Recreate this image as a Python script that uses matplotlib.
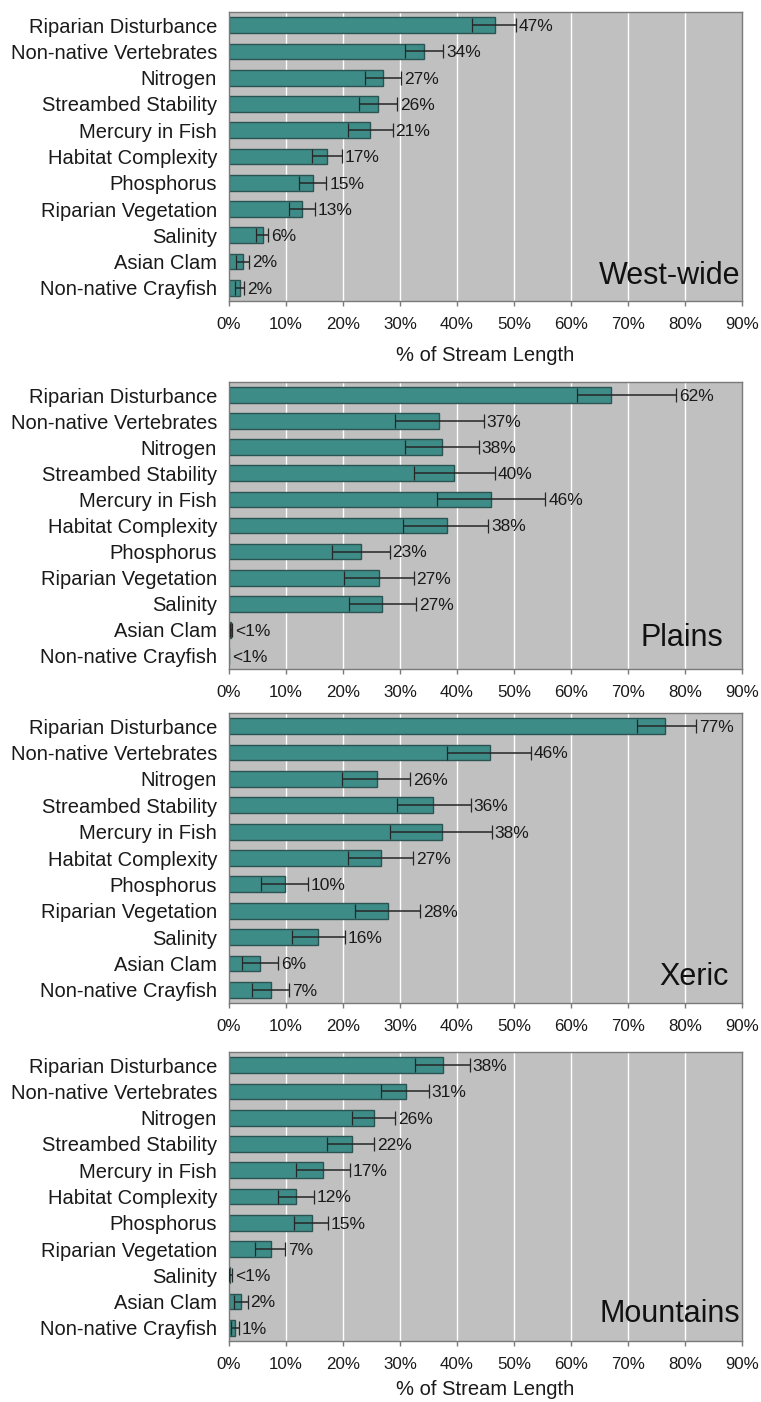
import numpy as np
import matplotlib
matplotlib.use("Agg")
import matplotlib.pyplot as plt

plt.rcParams["font.family"] = ["Liberation Sans", "DejaVu Sans"]

categories = [
    "Riparian Disturbance", "Non-native Vertebrates", "Nitrogen", "Streambed Stability",
    "Mercury in Fish", "Habitat Complexity", "Phosphorus", "Riparian Vegetation",
    "Salinity", "Asian Clam", "Non-native Crayfish",
]

# West-wide
west_val = [46.6, 34.2, 27.0, 26.2, 24.8, 17.2, 14.8, 12.8, 5.9, 2.4, 2.0]
west_lo = [42.7, 30.9, 23.8, 22.8, 20.8, 14.6, 12.3, 10.6, 4.8, 1.2, 1.0]
west_hi = [50.3, 37.6, 30.2, 29.5, 28.7, 19.8, 17.1, 15.1, 6.9, 3.5, 2.7]
west_lbl = ["47%", "34%", "27%", "26%", "21%", "17%", "15%", "13%", "6%", "2%", "2%"]

# Plains
plains_val = [67.0, 36.9, 37.3, 39.5, 46.0, 38.2, 23.1, 26.4, 26.9, 0.3, 0.0]
plains_lo = [61.0, 29.2, 30.8, 32.4, 36.5, 30.6, 18.0, 20.1, 21.0, 0.1, 0.0]
plains_hi = [78.5, 44.7, 43.8, 46.6, 55.5, 45.5, 28.2, 32.4, 32.8, 0.6, 0.0]
plains_lbl = ["62%", "37%", "38%", "40%", "46%", "38%", "23%", "27%", "27%", "<1%", "<1%"]

# Xeric
xeric_val = [76.5, 45.8, 25.9, 35.8, 37.3, 26.6, 9.9, 27.9, 15.7, 5.5, 7.4]
xeric_lo = [71.5, 38.3, 19.8, 29.4, 28.3, 20.9, 5.7, 22.1, 11.0, 2.3, 4.1]
xeric_hi = [82.0, 52.9, 31.8, 42.4, 46.1, 32.3, 13.9, 33.5, 20.3, 8.6, 10.5]
xeric_lbl = ["77%", "46%", "26%", "36%", "38%", "27%", "10%", "28%", "16%", "6%", "7%"]

# Mountains
mount_val = [37.5, 31.0, 25.4, 21.5, 16.5, 11.7, 14.5, 7.3, 0.2, 2.1, 1.0]
mount_lo = [32.6, 26.7, 21.5, 17.2, 11.7, 8.6, 11.4, 4.6, 0.0, 0.9, 0.3]
mount_hi = [42.2, 35.1, 29.2, 25.5, 21.2, 14.9, 17.3, 9.9, 0.5, 3.3, 1.8]
mount_lbl = ["38%", "31%", "26%", "22%", "17%", "12%", "15%", "7%", "<1%", "2%", "1%"]

panel_names = ["West-wide", "Plains", "Xeric", "Mountains"]
x_ticks = [0, 10, 20, 30, 40, 50, 60, 70, 80, 90]

BG = "#c0c0c0"
BAR = "#3e8c88"
BAR_EDGE = "#2b5352"
SPINE = "#7a7a7a"


def plot_panel(ax, val, lo, hi, lbl, name, name_pos, xlabel_pad):
    y = np.arange(len(categories))
    val = np.asarray(val)
    lo = np.asarray(lo)
    hi = np.asarray(hi)

    ax.set_facecolor(BG)
    for t in x_ticks[1:-1]:
        ax.axvline(t, color="white", linewidth=1.0, zorder=1)

    ax.barh(y, val, height=0.6, color=BAR, edgecolor=BAR_EDGE, linewidth=1.0, zorder=2)
    has_err = hi > 0
    ax.errorbar(val[has_err], y[has_err],
                xerr=[val[has_err] - lo[has_err], hi[has_err] - val[has_err]],
                fmt="none", ecolor="#262626", elinewidth=1.1, capsize=5.0,
                capthick=0.9, zorder=3)

    for yi, h, t in zip(y, hi, lbl):
        ax.annotate(t, xy=(h, yi), xytext=(2, -1), textcoords="offset points",
                    ha="left", va="center", fontsize=12.5, color="#1a1a1a", zorder=4)

    ax.text(name_pos[0], name_pos[1], name, transform=ax.transAxes, ha="right",
            va="baseline", fontsize=22, color="#111111", zorder=4)

    ax.set_xlim(0, 90)
    ax.set_ylim(len(categories) - 0.5, -0.5)
    ax.set_xticks(x_ticks)
    ax.set_xticklabels([f"{t}%" for t in x_ticks], fontsize=12.2, color="#1a1a1a")
    ax.set_yticks(y)
    ax.set_yticklabels(categories, fontsize=14.5, color="#1a1a1a")
    ax.tick_params(axis="y", length=0, pad=8.6)
    ax.tick_params(axis="x", length=3.5, width=1.0, color=SPINE, pad=8)
    for side in ["top", "bottom", "left", "right"]:
        ax.spines[side].set_color(SPINE)
        ax.spines[side].set_linewidth(1.0)
    if xlabel_pad is not None:
        ax.set_xlabel("% of Stream Length", fontsize=14.5, color="#1a1a1a", labelpad=xlabel_pad)


def main():
    fig = plt.figure(figsize=(7.61, 14.02), dpi=100)
    H = 1402.0
    W = 761.0
    left = 229 / W
    width = (742 - 229) / W
    # (top, bottom) pixel rows of each panel
    rows = [(12, 301), (382, 669), (713, 1003), (1052, 1341)]
    name_pos = [(0.997, 0.059), (0.963, 0.08), (0.975, 0.062), (0.997, 0.066)]
    xlabel_pads = [10, None, None, 5.5]

    panels = [
        (west_val, west_lo, west_hi, west_lbl),
        (plains_val, plains_lo, plains_hi, plains_lbl),
        (xeric_val, xeric_lo, xeric_hi, xeric_lbl),
        (mount_val, mount_lo, mount_hi, mount_lbl),
    ]
    for i, (top, bot) in enumerate(rows):
        ax = fig.add_axes([left, 1 - bot / H, width, (bot - top) / H])
        v, l, h, t = panels[i]
        plot_panel(ax, v, l, h, t, panel_names[i], name_pos[i], xlabel_pads[i])

    fig.savefig("out.png", dpi=100, facecolor="white")
    plt.close(fig)


if __name__ == "__main__":
    main()
